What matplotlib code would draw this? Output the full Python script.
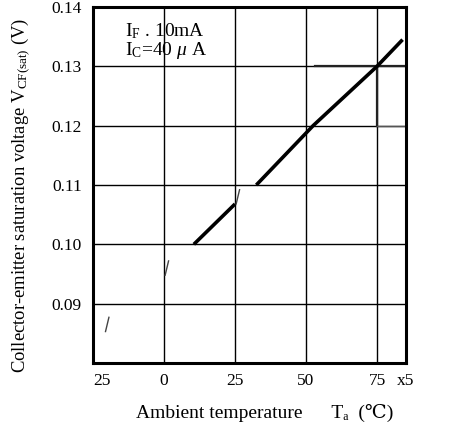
import matplotlib
matplotlib.use('Agg')
import matplotlib.pyplot as plt
import matplotlib.transforms as mtransforms
import numpy as np

plt.rcParams['font.family'] = ['Liberation Serif', 'DejaVu Serif']
plt.rcParams['mathtext.fontset'] = 'custom'
plt.rcParams['mathtext.rm'] = 'Liberation Serif'
plt.rcParams['mathtext.it'] = 'Liberation Serif:italic'

# main curve (NaN = gap in the scanned line)
temp = [10.5, 25.0, np.nan, 32.5, 52.5, 75.0, 84.0]
vce = [0.100, 0.1068, np.nan, 0.110, 0.120, 0.130, 0.1345]

# faint dash remnants of the curve
dash_t = [-20.0, 1.0, 26.0]
dash_v = [0.0865, 0.0960, 0.1080]

# reading guides
guide_v = 0.130
guide_t0, guide_t1 = 53.0, 85.0
guide_t = 75.0
guide_v0, guide_v1 = 0.120, 0.130

x_ticks = [-25, 0, 25, 50, 75, 85]
x_labels = ['25', '0', '25', '50', '75', 'x5']
y_ticks = [0.09, 0.10, 0.11, 0.12, 0.13, 0.14]
y_labels = ['0.09', '0.10', '0.11', '0.12', '0.13', '0.14']
grid_x = [0, 25, 50, 75]
grid_y = [0.09, 0.10, 0.11, 0.12, 0.13]

fig = plt.figure(figsize=(4.5, 4.25), dpi=100)
ax = fig.add_axes([0.2067, 0.1459, 0.6955, 0.8376])

for gx in grid_x:
    ax.axvline(gx, color='black', lw=1.0, zorder=1)
for gy in grid_y:
    ax.axhline(gy, color='black', lw=1.0, zorder=1)

ax.plot([guide_t0, guide_t1], [guide_v, guide_v], color='#222222', lw=1.6, zorder=2)
ax.plot([guide_t, guide_t], [guide_v0, guide_v1], color='#222222', lw=1.6, zorder=2)
ax.plot([guide_t, guide_t1], [guide_v0, guide_v0], color='#555555', lw=1.0, zorder=2)

ax.plot(temp, vce, color='black', lw=2.6, solid_capstyle='butt', zorder=3)

for t, v in zip(dash_t, dash_v):
    ax.plot([t - 0.6, t + 0.6], [v - 0.0012, v + 0.0012], color='#444444', lw=1.0, zorder=3)

ax.set_xlim(-25, 85.2)
ax.set_ylim(0.08, 0.14)
ax.set_xticks(x_ticks)
ax.set_xticklabels(x_labels, fontsize=12.5, fontfamily='Liberation Serif')
ax.set_yticks(y_ticks)
ax.set_yticklabels(y_labels, fontsize=12.5, fontfamily='Liberation Serif')
ax.tick_params(length=0, pad=7)
ax.tick_params(axis='y', pad=8)

# first x label sits right of the spine in the scan
xt = ax.get_xticklabels()
xt[0].set_transform(xt[0].get_transform() +
                    mtransforms.ScaledTranslation(9 / 100, 0, fig.dpi_scale_trans))

for s in ax.spines.values():
    s.set_linewidth(2.2)
    s.set_color('black')

ax.set_xlabel('Ambient temperature      T\u2090  (\u2103)', fontsize=14)
ax.xaxis.set_label_coords(0.55, -0.115)
ax.set_ylabel(r'Collector-emitter saturation voltage V$_{\rm CF(sat)}$ (V)', fontsize=13.4)
ax.yaxis.set_label_coords(-0.195, 0.47)

ax.text(-13.7, 0.1360, r'I$_{\rm F}$ . 10mA', fontsize=14, va='center')
ax.text(-13.7, 0.1327, r'I$_{\rm C}$=40 $\mu$ A', fontsize=14, va='center')

fig.savefig('out.png', dpi=100)
